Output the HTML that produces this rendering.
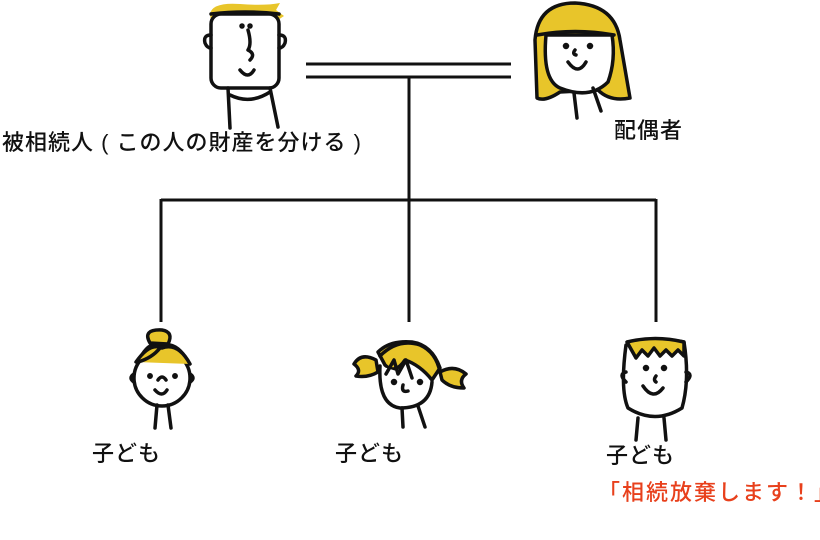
<!DOCTYPE html>
<html><head><meta charset="utf-8"><style>
body{margin:0;background:#fff;width:820px;height:540px;overflow:hidden}
svg{display:block}
text{font-family:"Liberation Sans","Noto Sans CJK JP",sans-serif;font-size:22px;font-weight:500;fill:#111;letter-spacing:1px}
</style></head><body>
<svg width="820" height="540" viewBox="0 0 820 540">
<g stroke="#111" stroke-width="3" fill="none">
<line x1="306" y1="64" x2="511" y2="64"/>
<line x1="306" y1="77" x2="511" y2="77"/>
<line x1="409" y1="77" x2="409" y2="200"/>
<line x1="161" y1="200" x2="656" y2="200"/>
<line x1="161" y1="199" x2="161" y2="322"/>
<line x1="409" y1="199" x2="409" y2="322"/>
<line x1="656" y1="199" x2="656" y2="322"/>
</g>
<g stroke="#111" stroke-width="3.5" fill="none" stroke-linecap="round" stroke-linejoin="round">
<!-- man -->
<path d="M210 14 Q212 2 240 4 Q265 6 280 3 L276 10 L284 16 L278 20 L276 26 L211 22 Z" fill="#e8c52a" stroke="none"/>
<rect x="211" y="14" width="68" height="74" rx="10" fill="#fff"/>
<path d="M211 14 Q245 10 279 14"/>
<path d="M211 35 q-8 0 -6 8 q2 5 6 5 M279 35 q8 0 6 8 q-2 5 -6 5"/>
<path d="M248 30 q4 14 0 20 q8 4 2 10 M240 70 q8 10 14 0"/>
<circle cx="242" cy="26" r="1" fill="#111"/><circle cx="250" cy="26" r="1" fill="#111"/>
<path d="M228 88 L230 128 M270 88 L278 127 M230 95 q20 10 40 -3"/>
<!-- woman -->
<path d="M535 40 Q538 3 575 3 Q615 5 620 40 L630 98 Q610 102 598 90 L560 92 Q545 102 537 98 Z" fill="#e8c52a"/>
<path d="M546 35 Q542 80 560 88 Q590 100 608 82 Q616 60 612 35 Z" fill="#fff"/>
<path d="M537 35 Q575 28 614 35"/>
<circle cx="566" cy="46" r="1.5" fill="#111"/><circle cx="590" cy="46" r="1.5" fill="#111"/>
<path d="M575 50 q-3 4 1 5 M568 62 q10 14 18 0"/>
<path d="M574 93 L577 118 M593 88 L601 111"/>
<!-- girl 1 -->
<path d="M140 358 Q150 340 162 345 Q178 342 188 362 Q170 355 150 366 Z" fill="#e8c52a"/>
<path d="M150 343 q-8 -14 12 -13 q12 2 6 14 Z" fill="#e8c52a"/>
<circle cx="162" cy="378" r="28" fill="#fff"/>
<path d="M136 362 Q150 342 162 348 Q178 342 190 364 M160 348 q-8 10 -22 14" fill="#e8c52a"/>
<path d="M134 374 q-6 4 0 8 M190 374 q6 4 0 8"/>
<circle cx="150" cy="376" r="1.2" fill="#111"/><circle cx="175" cy="376" r="1.2" fill="#111"/>
<path d="M158 380 q4 -6 8 0 M155 390 q7 8 12 0 M157 405 L155 428 M168 405 L171 428"/>
<!-- girl 2 -->
<path d="M378 352 Q390 340 412 342 Q432 345 440 368 L432 380 Q420 365 405 360 Q395 375 385 365 Z" fill="#e8c52a"/>
<path d="M376 360 q-15 -8 -22 4 q8 6 2 12 q12 2 22 -4 Z M440 372 q14 -8 26 2 q-8 6 -2 14 q-14 0 -22 -8 Z" fill="#e8c52a"/>
<path d="M380 366 Q378 405 400 408 Q430 408 432 382" fill="#fff"/>
<path d="M380 356 Q398 338 420 345 Q436 352 440 372 M386 374 l8 -14 l4 14 l8 -14 l6 18"/>
<circle cx="394" cy="382" r="1.5" fill="#111"/><circle cx="420" cy="382" r="1.5" fill="#111"/>
<path d="M403 385 q-2 8 5 6 M402 408 L403 427 M418 406 L425 427"/>
<!-- boy -->
<path d="M626 345 Q620 390 628 408 Q655 425 682 408 Q690 380 684 342 Q655 336 626 345 Z" fill="#fff"/>
<path d="M627 342 Q655 335 684 342 L684 356 l-6 -6 l-6 6 l-6 -6 l-6 6 l-6 -8 l-6 8 l-6 -6 l-6 8 Z" fill="#e8c52a"/>
<path d="M626 372 q-8 2 0 10 M686 372 q8 2 0 10"/>
<circle cx="646" cy="368" r="1.5" fill="#111"/><circle cx="664" cy="368" r="1.5" fill="#111"/>
<path d="M656 376 q-3 4 0 6 M643 386 q10 15 20 2 M638 418 L636 440 M664 418 L666 440"/>
</g>
<text x="2" y="150">被相続人 ( この人の財産を分ける )</text>
<text x="614" y="138">配偶者</text>
<text x="92" y="461">子ども</text>
<text x="335" y="461">子ども</text>
<text x="606" y="463">子ども</text>
<text x="598" y="500" style="fill:#e8401c;letter-spacing:2px">「相続放棄します！」</text>
</svg>
</body></html>
